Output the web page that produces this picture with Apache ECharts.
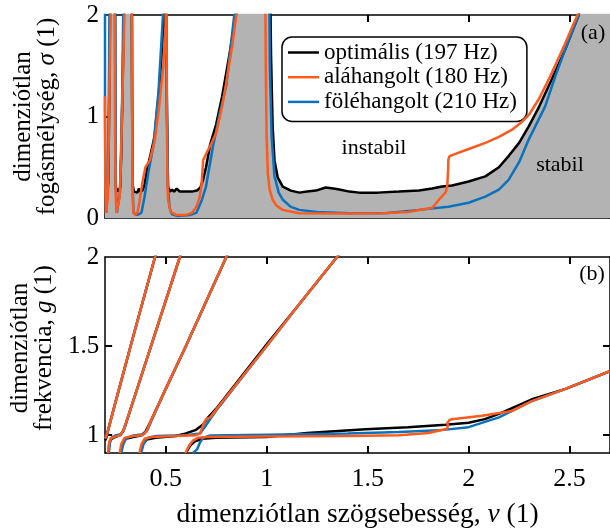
<!DOCTYPE html>
<html>
<head>
<meta charset="utf-8">
<script src="https://cdn.jsdelivr.net/npm/echarts@6/dist/echarts.min.js"></script>
<style>
html, body { margin: 0; padding: 0; background: #fff; }
#chart { width: 610px; height: 530px; }
</style>
</head>
<body>
<div id="chart"></div>
<script>
var names = ['optimális (197 Hz)', 'aláhangolt (180 Hz)', 'föléhangolt (210 Hz)'];
var xTicks = [0.5, 1, 1.5, 2, 2.5];
var sigmaTicks = [0, 1, 2];
var gTicks = [1, 1.5, 2];

// (a) dimenziótlan fogásmélység
var sigmaOpt = [
    [0.2, 0.27], [0.205, 0.26], [0.209, 0.28], [0.213, 0.27], [0.216, 0.35], [0.219, 0.8], [0.222, 1.4], [0.225, 2.0], [0.23, 2.6], [0.249, 2.6],
    [0.251, 1.2], [0.253, 0.32], [0.257, 0.26], [0.261, 0.29], [0.265, 0.26], [0.27, 0.27], [0.275, 0.3], [0.28, 0.6], [0.285, 1.1], [0.289, 1.5], [0.293, 2.0], [0.3, 2.6], [0.332, 2.6],
    [0.334, 1.2], [0.337, 0.33], [0.343, 0.26], [0.35, 0.27], [0.36, 0.25], [0.368, 0.29], [0.375, 0.26], [0.385, 0.27], [0.395, 0.32], [0.41, 0.5], [0.425, 0.62], [0.445, 0.8], [0.465, 1.2], [0.48, 1.6], [0.492, 2.0], [0.496, 2.6], [0.503, 2.6],
    [0.506, 1.2], [0.512, 0.31], [0.522, 0.26], [0.532, 0.28], [0.542, 0.26], [0.555, 0.29], [0.57, 0.26], [0.6, 0.26], [0.63, 0.26], [0.655, 0.27], [0.672, 0.3], [0.685, 0.375], [0.7, 0.5], [0.72, 0.72], [0.75, 0.92], [0.78, 1.2], [0.815, 1.6], [0.848, 2.0], [0.88, 2.6], [1.016, 2.6],
    [1.022, 1.6], [1.03, 0.9], [1.039, 0.57], [1.055, 0.4], [1.08, 0.31], [1.12, 0.27], [1.162, 0.25], [1.2, 0.26], [1.244, 0.27], [1.293, 0.3], [1.33, 0.29], [1.36, 0.28], [1.41, 0.26], [1.458, 0.25], [1.55, 0.25], [1.655, 0.26], [1.754, 0.27], [1.82, 0.29], [1.869, 0.31], [1.918, 0.32], [2.0, 0.36], [2.083, 0.41], [2.15, 0.5], [2.198, 0.61], [2.25, 0.74], [2.297, 0.9], [2.35, 1.1], [2.41, 1.36], [2.478, 1.66], [2.543, 1.99], [2.6, 2.4], [2.7, 3.0]
];
var sigmaLow = [
    [0.2, 1.2], [0.202, 0.3], [0.205, 0.05], [0.21, 0.05], [0.214, 0.2], [0.218, 0.7], [0.223, 1.4], [0.228, 2.0], [0.232, 2.6], [0.248, 2.6],
    [0.2495, 1.2], [0.252, 0.3], [0.256, 0.05], [0.265, 0.04], [0.272, 0.2], [0.278, 0.5], [0.284, 1.0], [0.29, 1.5], [0.296, 2.0], [0.3, 2.6], [0.332, 2.6],
    [0.334, 1.2], [0.336, 0.3], [0.34, 0.06], [0.35, 0.03], [0.36, 0.05], [0.37, 0.15], [0.385, 0.35], [0.4, 0.5], [0.422, 0.57], [0.447, 0.77], [0.468, 1.1], [0.488, 1.49], [0.5, 1.9], [0.502, 2.6], [0.504, 2.6],
    [0.506, 1.0], [0.509, 0.4], [0.512, 0.18], [0.525, 0.06], [0.553, 0.03], [0.6, 0.03], [0.63, 0.05], [0.652, 0.11], [0.668, 0.2], [0.677, 0.31], [0.682, 0.45], [0.686, 0.57], [0.693, 0.6], [0.705, 0.65], [0.718, 0.7], [0.751, 0.84], [0.78, 1.1], [0.8, 1.33], [0.83, 1.7], [0.85, 2.0], [0.87, 2.6], [0.992, 2.6],
    [0.996, 1.5], [1.0, 0.8], [1.006, 0.44], [1.015, 0.28], [1.03, 0.18], [1.05, 0.12], [1.08, 0.08], [1.16, 0.046], [1.4, 0.045], [1.57, 0.046], [1.7, 0.06], [1.82, 0.1], [1.853, 0.18], [1.885, 0.25], [1.894, 0.31], [1.898, 0.45], [1.9, 0.58], [1.906, 0.61], [1.918, 0.62], [2.0, 0.68], [2.083, 0.74], [2.15, 0.8], [2.215, 0.87], [2.26, 0.94], [2.3, 1.02], [2.35, 1.18], [2.41, 1.42], [2.478, 1.72], [2.543, 2.02], [2.6, 2.4]
];
var sigmaHigh = [
    [0.2, 2.6], [0.2, 1.0], [0.202, 0.3], [0.206, 0.05], [0.21, 0.05], [0.213, 0.3], [0.217, 0.9], [0.22, 1.5], [0.222, 2.0], [0.226, 2.6], [0.25, 2.6],
    [0.252, 1.2], [0.254, 0.3], [0.259, 0.05], [0.268, 0.05], [0.274, 0.25], [0.28, 0.7], [0.285, 1.2], [0.29, 2.0], [0.295, 2.6], [0.333, 2.6],
    [0.335, 1.2], [0.337, 0.3], [0.341, 0.05], [0.36, 0.03], [0.38, 0.05], [0.395, 0.2], [0.415, 0.45], [0.44, 0.72], [0.465, 1.25], [0.487, 2.0], [0.493, 2.6], [0.504, 2.6],
    [0.507, 1.0], [0.512, 0.3], [0.52, 0.1], [0.53, 0.04], [0.56, 0.02], [0.62, 0.03], [0.652, 0.05], [0.68, 0.18], [0.7, 0.31], [0.734, 0.7], [0.77, 1.05], [0.8, 1.3], [0.84, 2.0], [0.86, 2.6], [1.012, 2.6],
    [1.016, 1.5], [1.025, 0.8], [1.039, 0.41], [1.06, 0.25], [1.08, 0.18], [1.12, 0.11], [1.162, 0.08], [1.25, 0.06], [1.409, 0.046], [1.6, 0.05], [1.754, 0.08], [1.9, 0.11], [2.0, 0.15], [2.083, 0.21], [2.15, 0.28], [2.198, 0.375], [2.25, 0.55], [2.297, 0.77], [2.379, 1.1], [2.43, 1.4], [2.478, 1.66], [2.545, 2.0], [2.6, 2.4]
];

// (b) dimenziótlan frekvencia, ágak
var gOptMain = [[0.6, 0.9], [0.62, 0.94], [0.645, 0.965], [0.68, 0.98], [0.75, 0.985], [1.0, 0.99], [1.2, 1.012], [1.49, 1.033], [1.7, 1.045], [1.885, 1.058], [2.0, 1.07], [2.08, 1.09], [2.15, 1.12], [2.31, 1.2], [2.48, 1.26], [2.7, 1.36]];
var gLowMain = [[0.598, 0.9], [0.615, 0.94], [0.635, 0.97], [0.66, 0.985], [0.7, 0.99], [1.0, 0.992], [1.4, 0.995], [1.655, 1.0], [1.8, 1.012], [1.85, 1.025], [1.893, 1.035], [1.897, 1.055], [1.895, 1.07], [1.905, 1.085], [1.918, 1.09], [2.066, 1.109], [2.215, 1.136], [2.31, 1.19], [2.48, 1.26], [2.7, 1.36]];
var gHighMain = [[0.635, 0.9], [0.655, 0.92], [0.67, 0.96], [0.685, 0.985], [0.72, 0.998], [1.0, 1.003], [1.4, 1.01], [1.655, 1.018], [1.85, 1.027], [2.0, 1.045], [2.15, 1.1], [2.31, 1.19], [2.48, 1.26], [2.7, 1.36]];

var gOptK1 = [[0.373, 0.9], [0.385, 0.95], [0.406, 0.975], [0.45, 0.985], [0.55, 0.995], [0.6, 1.01], [0.65, 1.03], [0.685, 1.06], [0.71, 1.1], [0.751, 1.15], [1.0, 1.51], [1.162, 1.736], [1.348, 2.0], [1.4, 2.07]];
var gLowK1 = [[0.37, 0.9], [0.38, 0.95], [0.395, 0.98], [0.43, 0.99], [0.55, 0.995], [0.65, 1.0], [0.67, 1.01], [0.68, 1.04], [0.69, 1.07], [0.7, 1.09], [0.72, 1.1], [0.751, 1.145], [1.0, 1.5], [1.162, 1.736], [1.348, 2.0], [1.4, 2.07]];
var gHighK1 = [[0.378, 0.9], [0.39, 0.95], [0.41, 0.985], [0.45, 0.995], [0.6, 1.0], [0.67, 1.01], [0.69, 1.04], [0.72, 1.09], [0.751, 1.14], [1.0, 1.5], [1.162, 1.736], [1.348, 2.0], [1.4, 2.07]];

var gOptK2 = [[0.276, 0.9], [0.285, 0.955], [0.3, 0.98], [0.34, 0.99], [0.38, 1.0], [0.4, 1.02], [0.422, 1.07], [0.5, 1.26], [0.6, 1.5], [0.7, 1.75], [0.8, 2.0], [0.82, 2.05]];
var gLowK2 = [[0.272, 0.9], [0.28, 0.95], [0.296, 0.985], [0.34, 0.995], [0.385, 1.0], [0.405, 1.02], [0.415, 1.05], [0.422, 1.07], [0.5, 1.26], [0.6, 1.5], [0.7, 1.75], [0.8, 2.0], [0.82, 2.05]];
var gHighK2 = [[0.28, 0.9], [0.29, 0.95], [0.305, 0.985], [0.34, 0.998], [0.39, 1.005], [0.41, 1.03], [0.425, 1.07], [0.5, 1.26], [0.6, 1.5], [0.7, 1.75], [0.8, 2.0], [0.82, 2.05]];

var gOptK3 = [[0.216, 0.9], [0.22, 0.95], [0.226, 0.975], [0.25, 0.99], [0.274, 1.0], [0.288, 1.02], [0.299, 1.054], [0.35, 1.23], [0.45, 1.58], [0.57, 2.0], [0.58, 2.04]];
var gLowK3 = [[0.214, 0.9], [0.219, 0.95], [0.225, 0.98], [0.25, 0.992], [0.275, 1.0], [0.29, 1.025], [0.299, 1.054], [0.35, 1.23], [0.45, 1.58], [0.57, 2.0], [0.58, 2.04]];
var gHighK3 = [[0.218, 0.9], [0.223, 0.95], [0.23, 0.985], [0.25, 0.998], [0.278, 1.005], [0.292, 1.03], [0.3, 1.054], [0.35, 1.23], [0.45, 1.58], [0.57, 2.0], [0.58, 2.04]];

var gOptK4 = [[0.2, 0.97], [0.207, 0.99], [0.215, 1.03], [0.25, 1.18], [0.3, 1.39], [0.35, 1.6], [0.447, 2.0], [0.46, 2.05]];
var gLowK4 = [[0.2, 0.98], [0.208, 1.0], [0.215, 1.03], [0.25, 1.18], [0.3, 1.39], [0.35, 1.6], [0.447, 2.0], [0.46, 2.05]];
var gHighK4 = [[0.2, 0.99], [0.209, 1.005], [0.216, 1.035], [0.25, 1.18], [0.3, 1.39], [0.35, 1.6], [0.447, 2.0], [0.46, 2.05]];

var colOpt = '#000000';
var colLow = '#ff5a1e';
var colHigh = '#0a72bd';
var serif = '"Liberation Serif", "DejaVu Serif", serif';

var myChart = echarts.init(document.getElementById('chart'));

function line(name, color, data, panel, extra) {
    var s = {
        type: 'line',
        name: name,
        data: data,
        xAxisIndex: panel * 2,
        yAxisIndex: panel * 2,
        symbol: 'none',
        clip: true,
        lineStyle: { color: color, width: 2.5 },
        itemStyle: { color: color },
        animation: false
    };
    for (var k in extra) s[k] = extra[k];
    return s;
}

function xAx(grid, pos, labels) {
    return {
        type: 'value', gridIndex: grid, position: pos, min: 0.2, max: 2.7,
        axisLine: { show: true, onZero: false, lineStyle: { color: '#000', width: 1.5 } },
        axisTick: { show: true, inside: true, length: 7, customValues: xTicks, lineStyle: { color: '#000', width: 2 } },
        axisLabel: { show: labels, customValues: xTicks, margin: 13, color: '#000', fontFamily: serif, fontSize: 26 },
        splitLine: { show: false }
    };
}

function yAx(grid, pos, min, max, ticks, labels) {
    return {
        type: 'value', gridIndex: grid, position: pos, min: min, max: max,
        axisLine: { show: true, onZero: false, lineStyle: { color: '#000', width: 1.5 } },
        axisTick: { show: true, inside: true, length: 7, customValues: ticks, lineStyle: { color: '#000', width: 2 } },
        axisLabel: { show: labels, customValues: labels ? (grid === 0 ? sigmaTicks : gTicks) : [], margin: 6, color: '#000', fontFamily: serif, fontSize: 25 },
        splitLine: { show: false }
    };
}

var xAxes = [xAx(0, 'bottom', false), xAx(0, 'top', false), xAx(1, 'bottom', true), xAx(1, 'top', false)];
xAxes[2].name = '{t|dimenziótlan szögsebesség, }{i|ν}{t| (1)}';
xAxes[2].nameLocation = 'middle';
xAxes[2].nameGap = 48;
xAxes[2].nameTextStyle = { rich: { t: { fontFamily: serif, fontSize: 27.5, color: '#000' }, i: { fontFamily: serif, fontSize: 27.5, fontStyle: 'italic', color: '#000' } } };

var yAxes = [yAx(0, 'left', 0, 2, [1], true), yAx(0, 'right', 0, 2, [1], false), yAx(1, 'left', 0.9, 2, [1, 1.5], true), yAx(1, 'right', 0.9, 2, [1, 1.5], false)];
var yRich = { t: { fontFamily: serif, fontSize: 25, color: '#000', lineHeight: 24 }, i: { fontFamily: serif, fontSize: 25, fontStyle: 'italic', color: '#000', lineHeight: 24 } };
yAxes[0].name = '{t|dimenziótlan}\n{t|fogásmélység, }{i|σ}{t| (1)}';
yAxes[2].name = '{t|dimenziótlan}\n{t|frekvencia, }{i|g}{t| (1)}';
[0, 2].forEach(function (i) {
    yAxes[i].nameLocation = 'middle';
    yAxes[i].nameGap = 46;
    yAxes[i].nameRotate = 90;
    yAxes[i].nameTextStyle = { rich: yRich };
});
yAxes[2].nameTextStyle.padding = [0, 0, 0, 14];

var series = [
    line(names[0], colOpt, sigmaOpt, 0, { areaStyle: { color: '#b3b3b3', opacity: 1 }, z: 2 }),
    line(names[2], colHigh, sigmaHigh, 0, { z: 3 }),
    line(names[1], colLow, sigmaLow, 0, { z: 4 })
];
[gOptMain, gOptK1, gOptK2, gOptK3, gOptK4].forEach(function (d) { series.push(line(names[0], colOpt, d, 1, { z: 2 })); });
[gHighMain, gHighK1, gHighK2, gHighK3, gHighK4].forEach(function (d) { series.push(line(names[2], colHigh, d, 1, { z: 3 })); });
[gLowMain, gLowK1, gLowK2, gLowK3, gLowK4].forEach(function (d) { series.push(line(names[1], colLow, d, 1, { z: 4 })); });

function label(text, x, y, size) {
    return { type: 'text', x: x, y: y, z: 100, style: { text: text, font: size + 'px ' + serif, fill: '#000', align: 'center', verticalAlign: 'middle' } };
}

option = {
    animation: false,
    backgroundColor: '#fff',
    grid: [
        { left: 105, top: 15, width: 507, height: 203 },
        { left: 105, top: 257, width: 507, height: 202 }
    ],
    xAxis: xAxes,
    yAxis: yAxes,
    legend: {
        data: names,
        left: 282,
        top: 37,
        orient: 'vertical',
        selectedMode: false,
        icon: 'rect',
        padding: [4, 10, 8, 6],
        itemGap: 1.7,
        itemWidth: 31,
        itemHeight: 2.5,
        backgroundColor: '#fff',
        borderColor: '#000',
        borderWidth: 1.5,
        borderRadius: 10,
        textStyle: { fontFamily: serif, fontSize: 23, lineHeight: 21, color: '#000' }
    },
    graphic: [
        label('instabil', 374, 148, 22),
        label('stabil', 560, 165, 22),
        label('(a)', 593, 33, 22),
        label('(b)', 592, 274, 22)
    ],
    series: series
};

myChart.setOption(option);
</script>
</body>
</html>
